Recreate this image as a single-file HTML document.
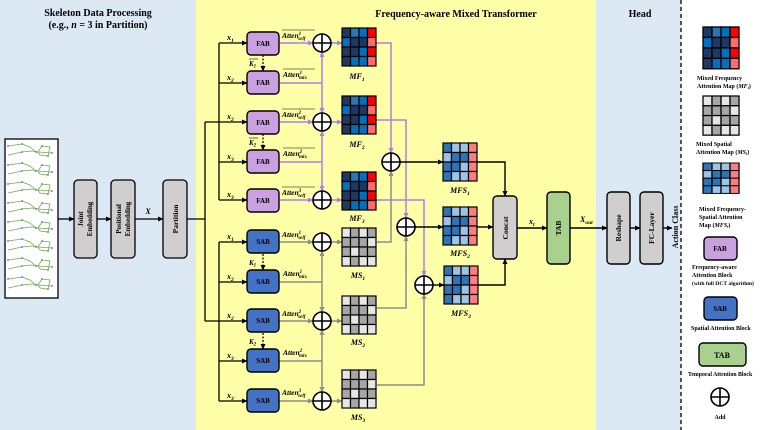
<!DOCTYPE html>
<html><head><meta charset="utf-8"><style>
html,body{margin:0;padding:0;background:#fff}
svg{display:block}
text{font-family:"Liberation Serif",serif;font-weight:bold}
.it{font-style:italic}
</style></head><body>
<svg width="764" height="430" viewBox="0 0 764 430" xmlns="http://www.w3.org/2000/svg">
<defs>
<marker id="ab" markerWidth="6" markerHeight="6" refX="5" refY="3" orient="auto" markerUnits="userSpaceOnUse"><path d="M0,0.5 L5.5,3 L0,5.5 Z" fill="#000"/></marker>
<marker id="ap" markerWidth="6" markerHeight="6" refX="5" refY="3" orient="auto" markerUnits="userSpaceOnUse"><path d="M0,0.5 L5.5,3 L0,5.5 Z" fill="#b07ce8"/></marker>
<marker id="ag" markerWidth="6" markerHeight="6" refX="5" refY="3" orient="auto" markerUnits="userSpaceOnUse"><path d="M0,0.5 L5.5,3 L0,5.5 Z" fill="#8c8c8c"/></marker>
<g id="plus"><circle cx="0" cy="0" r="9" fill="#fff" stroke="#000" stroke-width="1.6"/><path d="M-9,0H9M0,-9V9" stroke="#000" stroke-width="1.6"/></g>
<g id="mf" stroke="#000" stroke-width="1.2">
<rect x="0" y="0" width="8.5" height="9.5" fill="#1f3864"/><rect x="8.5" y="0" width="8.5" height="9.5" fill="#2e75b6"/><rect x="17" y="0" width="8.5" height="9.5" fill="#0070c0"/><rect x="25.5" y="0" width="8.5" height="9.5" fill="#ff0000"/>
<rect x="0" y="9.5" width="8.5" height="9.5" fill="#0070c0"/><rect x="8.5" y="9.5" width="8.5" height="9.5" fill="#1f3864"/><rect x="17" y="9.5" width="8.5" height="9.5" fill="#1f3864"/><rect x="25.5" y="9.5" width="8.5" height="9.5" fill="#ff6b6b"/>
<rect x="0" y="19" width="8.5" height="9.5" fill="#1f3864"/><rect x="8.5" y="19" width="8.5" height="9.5" fill="#1f3864"/><rect x="17" y="19" width="8.5" height="9.5" fill="#0070c0"/><rect x="25.5" y="19" width="8.5" height="9.5" fill="#ff0000"/>
<rect x="0" y="28.5" width="8.5" height="9.5" fill="#1f3864"/><rect x="8.5" y="28.5" width="8.5" height="9.5" fill="#0070c0"/><rect x="17" y="28.5" width="8.5" height="9.5" fill="#0070c0"/><rect x="25.5" y="28.5" width="8.5" height="9.5" fill="#ff6b6b"/>
</g>
<g id="mfs" stroke="#000" stroke-width="1.2">
<rect x="0" y="0" width="8.5" height="9.5" fill="#2e75b6"/><rect x="8.5" y="0" width="8.5" height="9.5" fill="#9dc3e6"/><rect x="17" y="0" width="8.5" height="9.5" fill="#9dc3e6"/><rect x="25.5" y="0" width="8.5" height="9.5" fill="#ff7c80"/>
<rect x="0" y="9.5" width="8.5" height="9.5" fill="#9dc3e6"/><rect x="8.5" y="9.5" width="8.5" height="9.5" fill="#2e75b6"/><rect x="17" y="9.5" width="8.5" height="9.5" fill="#2e75b6"/><rect x="25.5" y="9.5" width="8.5" height="9.5" fill="#ff7c80"/>
<rect x="0" y="19" width="8.5" height="9.5" fill="#2e75b6"/><rect x="8.5" y="19" width="8.5" height="9.5" fill="#2e75b6"/><rect x="17" y="19" width="8.5" height="9.5" fill="#9dc3e6"/><rect x="25.5" y="19" width="8.5" height="9.5" fill="#ff7c80"/>
<rect x="0" y="28.5" width="8.5" height="9.5" fill="#2e75b6"/><rect x="8.5" y="28.5" width="8.5" height="9.5" fill="#9dc3e6"/><rect x="17" y="28.5" width="8.5" height="9.5" fill="#9dc3e6"/><rect x="25.5" y="28.5" width="8.5" height="9.5" fill="#ff7c80"/>
</g>
<g id="ms" stroke="#000" stroke-width="1.2">
<rect x="0" y="0" width="8.5" height="9.5" fill="#e7e6e6"/><rect x="8.5" y="0" width="8.5" height="9.5" fill="#a6a6a6"/><rect x="17" y="0" width="8.5" height="9.5" fill="#e7e6e6"/><rect x="25.5" y="0" width="8.5" height="9.5" fill="#a6a6a6"/>
<rect x="0" y="9.5" width="8.5" height="9.5" fill="#a6a6a6"/><rect x="8.5" y="9.5" width="8.5" height="9.5" fill="#a6a6a6"/><rect x="17" y="9.5" width="8.5" height="9.5" fill="#a6a6a6"/><rect x="25.5" y="9.5" width="8.5" height="9.5" fill="#e7e6e6"/>
<rect x="0" y="19" width="8.5" height="9.5" fill="#a6a6a6"/><rect x="8.5" y="19" width="8.5" height="9.5" fill="#e7e6e6"/><rect x="17" y="19" width="8.5" height="9.5" fill="#a6a6a6"/><rect x="25.5" y="19" width="8.5" height="9.5" fill="#a6a6a6"/>
<rect x="0" y="28.5" width="8.5" height="9.5" fill="#e7e6e6"/><rect x="8.5" y="28.5" width="8.5" height="9.5" fill="#a6a6a6"/><rect x="17" y="28.5" width="8.5" height="9.5" fill="#e7e6e6"/><rect x="25.5" y="28.5" width="8.5" height="9.5" fill="#e7e6e6"/>
</g>
<g id="skel" fill="none" stroke="#70ad47" stroke-width="0.8">
<path d="M8,3 L22,1 L30,4 L36,9 M8,12 L22,9 L32,8 L38,9"/>
<path d="M38,9 L42,3 L50,4 L48,13 L40,12 Z M38,9 L52,10"/>
<g fill="#4472c4" stroke="none"><circle cx="8" cy="3" r="0.9"/><circle cx="22" cy="1" r="0.9"/><circle cx="36" cy="9" r="0.9"/><circle cx="42" cy="3" r="0.9"/><circle cx="48" cy="13" r="0.9"/><circle cx="52" cy="10" r="0.9"/><circle cx="22" cy="9" r="0.9"/></g>
</g>
</defs>

<rect x="0" y="0" width="196" height="430" fill="#dde8f5"/>
<rect x="196" y="0" width="400" height="430" fill="#ffffa8"/>
<rect x="596" y="0" width="85" height="430" fill="#dde8f5"/>
<line x1="681" y1="0" x2="681" y2="430" stroke="#000" stroke-width="1.3" stroke-dasharray="4,3"/>

<text x="98" y="16" font-size="10" text-anchor="middle">Skeleton Data Processing</text>
<text x="98" y="28" font-size="10" text-anchor="middle">(e.g., <tspan class="it">n</tspan> = 3 in Partition)</text>
<text x="456" y="17" font-size="10" text-anchor="middle">Frequency-aware Mixed Transformer</text>
<text x="640" y="17" font-size="10" text-anchor="middle">Head</text>

<rect x="5" y="139" width="53" height="159" fill="#fff" stroke="#000" stroke-width="1.3"/>
<use href="#skel" x="0" y="143"/><use href="#skel" x="0" y="162"/><use href="#skel" x="0" y="181"/><use href="#skel" x="0" y="200"/>
<use href="#skel" x="0" y="219"/><use href="#skel" x="0" y="238"/><use href="#skel" x="0" y="257"/><use href="#skel" x="0" y="276"/>

<g stroke="#000" stroke-width="1.3" fill="#d0cece">
<rect x="74" y="180" width="23" height="78" rx="4"/>
<rect x="111" y="180" width="24" height="78" rx="4"/>
<rect x="163" y="180" width="24" height="78" rx="4"/>
</g>
<text transform="translate(83,219) rotate(-90)" font-size="7" text-anchor="middle">Joint</text>
<text transform="translate(92,219) rotate(-90)" font-size="7" text-anchor="middle">Embedding</text>
<text transform="translate(121,219) rotate(-90)" font-size="7" text-anchor="middle">Positional</text>
<text transform="translate(130,219) rotate(-90)" font-size="7" text-anchor="middle">Embedding</text>
<text transform="translate(178,219) rotate(-90)" font-size="7.5" text-anchor="middle">Partition</text>
<text x="148" y="214" font-size="8" class="it" text-anchor="middle">X</text>
<g stroke="#000" stroke-width="1.3" fill="none">
<line x1="58" y1="219" x2="74" y2="219" marker-end="url(#ab)"/>
<line x1="97" y1="219" x2="111" y2="219" marker-end="url(#ab)"/>
<line x1="135" y1="219" x2="163" y2="219" marker-end="url(#ab)"/>
<polyline points="187,219 205,219"/>
<line x1="205" y1="122" x2="205" y2="321"/>
<line x1="205" y1="122" x2="247" y2="122" marker-end="url(#ab)"/>
<line x1="205" y1="321" x2="247" y2="321" marker-end="url(#ab)"/>
<line x1="219" y1="43" x2="219" y2="200"/>
<line x1="219" y1="242" x2="219" y2="401"/>
<line x1="219" y1="43" x2="247" y2="43" marker-end="url(#ab)"/>
<line x1="219" y1="83" x2="247" y2="83" marker-end="url(#ab)"/>
<line x1="219" y1="162" x2="247" y2="162" marker-end="url(#ab)"/>
<line x1="219" y1="200" x2="247" y2="200" marker-end="url(#ab)"/>
<line x1="219" y1="242" x2="247" y2="242" marker-end="url(#ab)"/>
<line x1="219" y1="282" x2="247" y2="282" marker-end="url(#ab)"/>
<line x1="219" y1="361" x2="247" y2="361" marker-end="url(#ab)"/>
<line x1="219" y1="401" x2="247" y2="401" marker-end="url(#ab)"/>
</g>
<g stroke="#000" stroke-width="1.2" stroke-dasharray="2,1.5">
<line x1="263" y1="55" x2="263" y2="71" marker-end="url(#ab)"/>
<line x1="263" y1="134" x2="263" y2="150" marker-end="url(#ab)"/>
<line x1="263" y1="254" x2="263" y2="270" marker-end="url(#ab)"/>
<line x1="263" y1="333" x2="263" y2="349" marker-end="url(#ab)"/>
</g>
<g font-size="7" class="it">
<text x="249" y="66">K<tspan font-size="5" dy="1.5">1</tspan></text>
<line x1="249" y1="59" x2="258" y2="59" stroke="#000" stroke-width="0.6"/>
<text x="249" y="145">K<tspan font-size="5" dy="1.5">2</tspan></text>
<line x1="249" y1="138" x2="258" y2="138" stroke="#000" stroke-width="0.6"/>
<text x="249" y="265">K<tspan font-size="5" dy="1.5">1</tspan></text>
<text x="249" y="344">K<tspan font-size="5" dy="1.5">2</tspan></text>
</g>
<g font-size="8" class="it">
<text x="227" y="40">x<tspan font-size="5.5" dy="2">1</tspan></text>
<text x="227" y="80">x<tspan font-size="5.5" dy="2">2</tspan></text>
<text x="227" y="119">x<tspan font-size="5.5" dy="2">2</tspan></text>
<text x="227" y="159">x<tspan font-size="5.5" dy="2">3</tspan></text>
<text x="227" y="197">x<tspan font-size="5.5" dy="2">3</tspan></text>
<text x="227" y="239">x<tspan font-size="5.5" dy="2">1</tspan></text>
<text x="227" y="279">x<tspan font-size="5.5" dy="2">2</tspan></text>
<text x="227" y="318">x<tspan font-size="5.5" dy="2">2</tspan></text>
<text x="227" y="358">x<tspan font-size="5.5" dy="2">3</tspan></text>
<text x="227" y="398">x<tspan font-size="5.5" dy="2">3</tspan></text>
</g>

<g stroke="#b07ce8" stroke-width="1.5" fill="none">
<line x1="279" y1="43" x2="313" y2="43" marker-end="url(#ap)"/>
<line x1="279" y1="122" x2="313" y2="122" marker-end="url(#ap)"/>
<line x1="279" y1="200" x2="313" y2="200" marker-end="url(#ap)"/>
<line x1="279" y1="83" x2="322" y2="83"/>
<line x1="279" y1="162" x2="322" y2="162"/>
<line x1="322" y1="83" x2="322" y2="52" marker-end="url(#ap)"/>
<line x1="322" y1="83" x2="322" y2="113" marker-end="url(#ap)"/>
<line x1="322" y1="162" x2="322" y2="131" marker-end="url(#ap)"/>
<line x1="322" y1="162" x2="322" y2="191" marker-end="url(#ap)"/>
<line x1="331" y1="43" x2="342" y2="43" marker-end="url(#ap)"/>
<line x1="331" y1="122" x2="342" y2="122" marker-end="url(#ap)"/>
<line x1="331" y1="200" x2="342" y2="200" marker-end="url(#ap)"/>
<polyline points="376,43 391,43 391,153" marker-end="url(#ap)"/>
<polyline points="376,120 406,120 406,218" marker-end="url(#ap)"/>
<polyline points="376,200 424,200 424,276" marker-end="url(#ap)"/>
</g>
<g stroke="#8c8c8c" stroke-width="1.5" fill="none">
<line x1="279" y1="242" x2="313" y2="242" marker-end="url(#ag)"/>
<line x1="279" y1="321" x2="313" y2="321" marker-end="url(#ag)"/>
<line x1="279" y1="401" x2="313" y2="401" marker-end="url(#ag)"/>
<line x1="279" y1="282" x2="322" y2="282"/>
<line x1="279" y1="361" x2="322" y2="361"/>
<line x1="322" y1="282" x2="322" y2="251" marker-end="url(#ag)"/>
<line x1="322" y1="282" x2="322" y2="312" marker-end="url(#ag)"/>
<line x1="322" y1="361" x2="322" y2="330" marker-end="url(#ag)"/>
<line x1="322" y1="361" x2="322" y2="392" marker-end="url(#ag)"/>
<line x1="331" y1="242" x2="342" y2="242" marker-end="url(#ag)"/>
<line x1="331" y1="321" x2="342" y2="321" marker-end="url(#ag)"/>
<line x1="331" y1="401" x2="342" y2="401" marker-end="url(#ag)"/>
<polyline points="377,242 391,242 391,171" marker-end="url(#ag)"/>
<polyline points="377,308 406,308 406,236" marker-end="url(#ag)"/>
<polyline points="377,385 424,385 424,294" marker-end="url(#ag)"/>
</g>

<g stroke="#000" stroke-width="1.4">
<rect x="247" y="32" width="32" height="23" rx="4" fill="#c9a0e0"/>
<rect x="247" y="71" width="32" height="23" rx="4" fill="#c9a0e0"/>
<rect x="247" y="111" width="32" height="23" rx="4" fill="#c9a0e0"/>
<rect x="247" y="150" width="32" height="23" rx="4" fill="#c9a0e0"/>
<rect x="247" y="189" width="32" height="23" rx="4" fill="#c9a0e0"/>
<rect x="247" y="230" width="32" height="23" rx="4" fill="#4472c4"/>
<rect x="247" y="270" width="32" height="23" rx="4" fill="#4472c4"/>
<rect x="247" y="309" width="32" height="23" rx="4" fill="#4472c4"/>
<rect x="247" y="349" width="32" height="23" rx="4" fill="#4472c4"/>
<rect x="247" y="389" width="32" height="23" rx="4" fill="#4472c4"/>
</g>
<g font-size="7" text-anchor="middle">
<text x="263" y="46">FAB</text><text x="263" y="85">FAB</text><text x="263" y="125">FAB</text><text x="263" y="164">FAB</text><text x="263" y="203">FAB</text>
<text x="263" y="244">SAB</text><text x="263" y="284">SAB</text><text x="263" y="323">SAB</text><text x="263" y="363">SAB</text><text x="263" y="403">SAB</text>
</g>
<g font-size="7.5" class="it">
<text x="282" y="38">Atten<tspan font-size="5" dy="-3">1</tspan><tspan font-size="5" dx="-3" dy="5">self</tspan></text>
<text x="283" y="77">Atten<tspan font-size="5" dy="-3">1</tspan><tspan font-size="5" dx="-3" dy="5">mix</tspan></text>
<text x="282" y="117">Atten<tspan font-size="5" dy="-3">2</tspan><tspan font-size="5" dx="-3" dy="5">self</tspan></text>
<text x="283" y="156">Atten<tspan font-size="5" dy="-3">2</tspan><tspan font-size="5" dx="-3" dy="5">mix</tspan></text>
<text x="282" y="195">Atten<tspan font-size="5" dy="-3">3</tspan><tspan font-size="5" dx="-3" dy="5">self</tspan></text>
<text x="282" y="237">Atten<tspan font-size="5" dy="-3">1</tspan><tspan font-size="5" dx="-3" dy="5">self</tspan></text>
<text x="283" y="276">Atten<tspan font-size="5" dy="-3">1</tspan><tspan font-size="5" dx="-3" dy="5">mix</tspan></text>
<text x="282" y="316">Atten<tspan font-size="5" dy="-3">2</tspan><tspan font-size="5" dx="-3" dy="5">self</tspan></text>
<text x="283" y="355">Atten<tspan font-size="5" dy="-3">2</tspan><tspan font-size="5" dx="-3" dy="5">mix</tspan></text>
<text x="282" y="395">Atten<tspan font-size="5" dy="-3">3</tspan><tspan font-size="5" dx="-3" dy="5">self</tspan></text>
</g>
<g stroke="#000" stroke-width="0.6">
<line x1="282" y1="30" x2="315" y2="30"/><line x1="283" y1="69" x2="315" y2="69"/><line x1="282" y1="109" x2="315" y2="109"/><line x1="283" y1="148" x2="315" y2="148"/><line x1="282" y1="187" x2="315" y2="187"/>
</g>

<use href="#plus" x="322" y="43"/><use href="#plus" x="322" y="122"/><use href="#plus" x="322" y="200"/>
<use href="#plus" x="322" y="242"/><use href="#plus" x="322" y="321"/><use href="#plus" x="322" y="401"/>
<use href="#plus" x="391" y="162"/><use href="#plus" x="406" y="227"/><use href="#plus" x="424" y="285"/>

<use href="#mf" x="342" y="28"/><use href="#mf" x="342" y="96"/><use href="#mf" x="342" y="172"/>
<use href="#ms" x="342" y="228"/><use href="#ms" x="342" y="296"/><use href="#ms" x="342" y="370"/>
<use href="#mfs" x="443" y="143"/><use href="#mfs" x="443" y="207"/><use href="#mfs" x="444" y="266"/>
<g font-size="8" class="it" text-anchor="middle">
<text x="357" y="79">MF<tspan font-size="5.5" dy="2">1</tspan></text>
<text x="357" y="147">MF<tspan font-size="5.5" dy="2">2</tspan></text>
<text x="357" y="221">MF<tspan font-size="5.5" dy="2">3</tspan></text>
<text x="358" y="278">MS<tspan font-size="5.5" dy="2">1</tspan></text>
<text x="358" y="345">MS<tspan font-size="5.5" dy="2">2</tspan></text>
<text x="358" y="420">MS<tspan font-size="5.5" dy="2">3</tspan></text>
<text x="460" y="193">MFS<tspan font-size="5.5" dy="2">1</tspan></text>
<text x="460" y="256">MFS<tspan font-size="5.5" dy="2">2</tspan></text>
<text x="461" y="316">MFS<tspan font-size="5.5" dy="2">3</tspan></text>
</g>

<g stroke="#000" stroke-width="1.4" fill="none">
<line x1="400" y1="162" x2="443" y2="162" marker-end="url(#ab)"/>
<line x1="415" y1="227" x2="443" y2="227" marker-end="url(#ab)"/>
<line x1="433" y1="285" x2="444" y2="285" marker-end="url(#ab)"/>
<polyline points="477,162 505,162 505,196" marker-end="url(#ab)"/>
<line x1="477" y1="227" x2="493" y2="227" marker-end="url(#ab)"/>
<polyline points="478,285 505,285 505,259" marker-end="url(#ab)"/>
<line x1="517" y1="228" x2="547" y2="228" marker-end="url(#ab)"/>
<line x1="570" y1="228" x2="607" y2="228" marker-end="url(#ab)"/>
<line x1="630" y1="228" x2="640" y2="228" marker-end="url(#ab)"/>
<line x1="663" y1="228" x2="672" y2="228" marker-end="url(#ab)"/>
</g>
<g stroke="#000" stroke-width="1.4">
<rect x="493" y="196" width="24" height="63" rx="4" fill="#d0cece"/>
<rect x="547" y="192" width="23" height="72" rx="4" fill="#a9d18e"/>
<rect x="607" y="192" width="23" height="72" rx="4" fill="#d0cece"/>
<rect x="640" y="192" width="23" height="72" rx="4" fill="#d0cece"/>
</g>
<text transform="translate(508,228) rotate(-90)" font-size="7.5" text-anchor="middle">Concat</text>
<text transform="translate(561,228) rotate(-90)" font-size="7.5" text-anchor="middle">TAB</text>
<text transform="translate(621,228) rotate(-90)" font-size="7.5" text-anchor="middle">Reshape</text>
<text transform="translate(654,228) rotate(-90)" font-size="7.5" text-anchor="middle">FC-Layer</text>
<text transform="translate(678,227) rotate(-90)" font-size="8" text-anchor="middle">Action Class</text>
<text x="529" y="224" font-size="8" class="it">x<tspan font-size="5.5" dy="2">t</tspan></text>
<text x="580" y="222" font-size="8" class="it">X<tspan font-size="5.5" dy="2">out</tspan></text>

<g transform="translate(703,27) scale(1.06,1.1)"><use href="#mf"/></g>
<g transform="translate(703,96) scale(1.06,1.03)"><use href="#ms"/></g>
<g transform="translate(703,163) scale(1.06,0.8)"><use href="#mfs"/></g>
<g font-size="6">
<text x="697" y="80">Mixed Frequency</text>
<text x="697" y="88">Attention Map (<tspan class="it">MF<tspan font-size="4" dy="1">i</tspan></tspan><tspan dy="-1">)</tspan></text>
<text x="696" y="146">Mixed Spatial</text>
<text x="696" y="154">Attention Map (<tspan class="it">MS<tspan font-size="4" dy="1">i</tspan></tspan><tspan dy="-1">)</tspan></text>
<text x="699" y="211">Mixed Frequency-</text>
<text x="699" y="219">Spatial Attention</text>
<text x="699" y="227">Map  (<tspan class="it">MFS<tspan font-size="4" dy="1">i</tspan></tspan><tspan dy="-1">)</tspan></text>
<text x="692" y="269">Frequency-aware</text>
<text x="692" y="277">Attention Block</text>
<text x="692" y="285" font-size="5.6">(with full DCT algorithm)</text>
<text x="691" y="330">Spatial Attention Block</text>
<text x="688" y="376" font-size="5.8">Temporal Attention Block</text>
<text x="720" y="419" text-anchor="middle">Add</text>
</g>
<g stroke="#000" stroke-width="1.4">
<rect x="704" y="237" width="33" height="23" rx="4" fill="#c9a0e0"/>
<rect x="704" y="297" width="33" height="23" rx="4" fill="#4472c4"/>
<rect x="699" y="343" width="47" height="23" rx="4" fill="#a9d18e"/>
</g>
<text x="720" y="251" font-size="7" text-anchor="middle">FAB</text>
<text x="720" y="311" font-size="7" text-anchor="middle">SAB</text>
<text x="722" y="358" font-size="8" text-anchor="middle">TAB</text>
<use href="#plus" x="720" y="397"/>
</svg>
</body></html>
